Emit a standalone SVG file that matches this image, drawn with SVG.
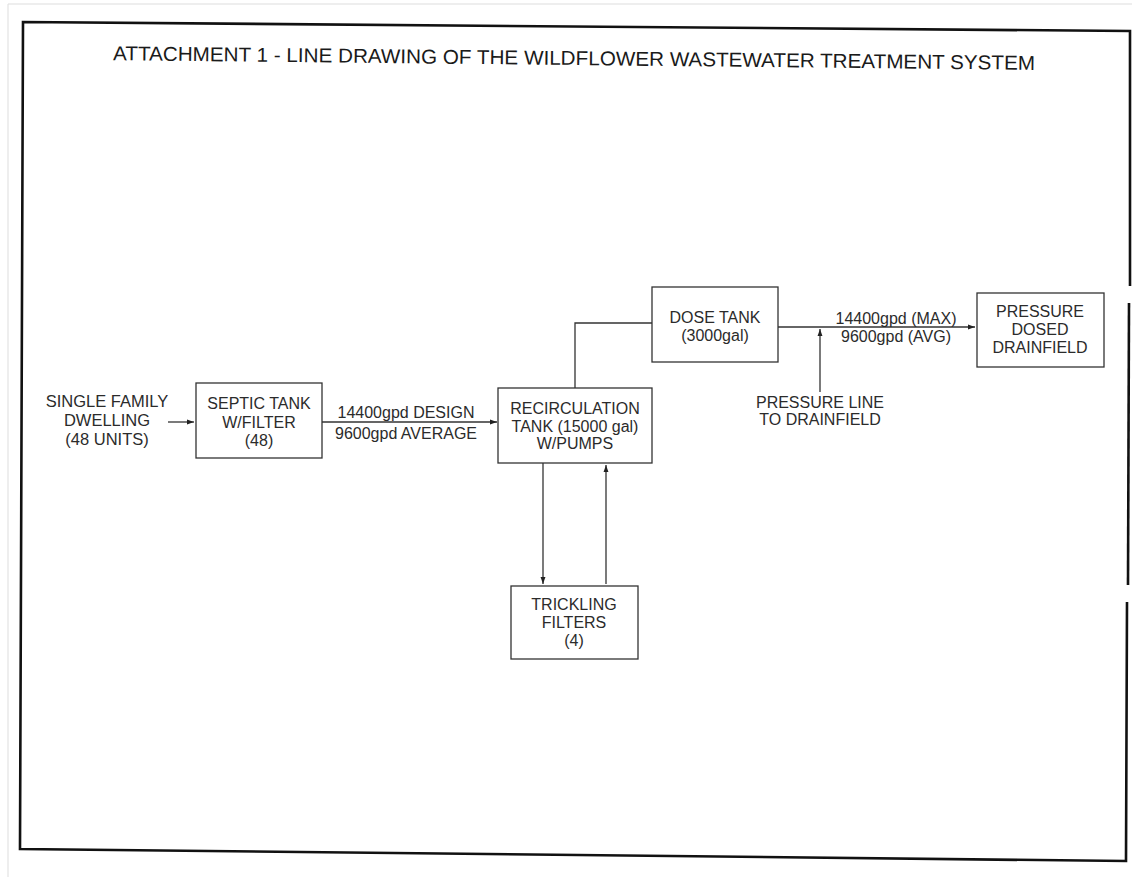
<svg xmlns="http://www.w3.org/2000/svg" width="1140" height="877" viewBox="0 0 1140 877">
<style>
.t{font-family:"Liberation Sans",Arial,sans-serif;font-size:16px;fill:#2b2b2b;text-anchor:middle}
.b{fill:#fff;stroke:#333;stroke-width:1.3}
.c{fill:none;stroke:#333;stroke-width:1.3}
.f{fill:none;stroke:#111;stroke-width:2.6}
</style>
<defs>
<marker id="ah" viewBox="0 0 10 10" refX="10" refY="5" markerWidth="9" markerHeight="7" markerUnits="userSpaceOnUse" orient="auto">
<path d="M0,1.5 L10,5 L0,8.5 z" fill="#222"/>
</marker>
</defs>
<rect width="1140" height="877" fill="#fff"/>
<path d="M8,877 L8,4 L1132,4" fill="none" stroke="#ddd" stroke-width="1"/>
<g id="frame">
<path class="f" d="M1130,286 L1130,31 L23,22 L20,849 L1126,861 L1127,602"/>
<path class="f" d="M1129,303 L1128,585"/>
</g>
<text id="title" x="574" y="65" transform="rotate(0.6 574 65)" style="font-family:'Liberation Sans',Arial,sans-serif;font-size:20px;fill:#1a1a1a;text-anchor:middle" textLength="922" lengthAdjust="spacingAndGlyphs">ATTACHMENT 1 - LINE DRAWING OF THE WILDFLOWER WASTEWATER TREATMENT SYSTEM</text>
<g id="connectors">
<line class="c" x1="168" y1="422" x2="194" y2="422" marker-end="url(#ah)"/>
<line class="c" x1="322" y1="422" x2="497" y2="422" marker-end="url(#ah)"/>
<polyline class="c" points="575,388 575,323 652,323"/>
<line class="c" x1="778" y1="327" x2="975" y2="327" marker-end="url(#ah)"/>
<line class="c" x1="820" y1="392" x2="820" y2="329" marker-end="url(#ah)"/>
<line class="c" x1="543" y1="463" x2="543" y2="584" marker-end="url(#ah)"/>
<line class="c" x1="606" y1="584" x2="606" y2="465" marker-end="url(#ah)"/>
<text class="t" x="406" y="418">14400gpd DESIGN</text>
<text class="t" x="406" y="439">9600gpd AVERAGE</text>
<text class="t" x="896" y="324">14400gpd (MAX)</text>
<text class="t" x="896" y="342">9600gpd (AVG)</text>
</g>
<g id="dwelling">
<text class="t" x="107" y="407" style="font-size:16.5px">SINGLE FAMILY</text>
<text class="t" x="107" y="426" style="font-size:16.5px">DWELLING</text>
<text class="t" x="107" y="445" style="font-size:16.5px">(48 UNITS)</text>
</g>
<g id="septic">
<rect class="b" x="196" y="383" width="126" height="75"/>
<text class="t" x="259" y="409">SEPTIC TANK</text>
<text class="t" x="259" y="428">W/FILTER</text>
<text class="t" x="259" y="446">(48)</text>
</g>
<g id="recirc">
<rect class="b" x="498" y="388" width="154" height="75"/>
<text class="t" x="575" y="414">RECIRCULATION</text>
<text class="t" x="575" y="432">TANK (15000 gal)</text>
<text class="t" x="575" y="449">W/PUMPS</text>
</g>
<g id="dose">
<rect class="b" x="652" y="287" width="126" height="75"/>
<text class="t" x="715" y="323">DOSE TANK</text>
<text class="t" x="715" y="341">(3000gal)</text>
</g>
<g id="drainfield">
<rect class="b" x="977" y="293" width="127" height="74"/>
<text class="t" x="1040" y="317">PRESSURE</text>
<text class="t" x="1040" y="335">DOSED</text>
<text class="t" x="1040" y="353">DRAINFIELD</text>
</g>
<g id="pressureline">
<text class="t" x="820" y="408">PRESSURE LINE</text>
<text class="t" x="820" y="425">TO DRAINFIELD</text>
</g>
<g id="trickling">
<rect class="b" x="511" y="586" width="127" height="73"/>
<text class="t" x="574" y="610">TRICKLING</text>
<text class="t" x="574" y="628">FILTERS</text>
<text class="t" x="574" y="646">(4)</text>
</g>
</svg>
